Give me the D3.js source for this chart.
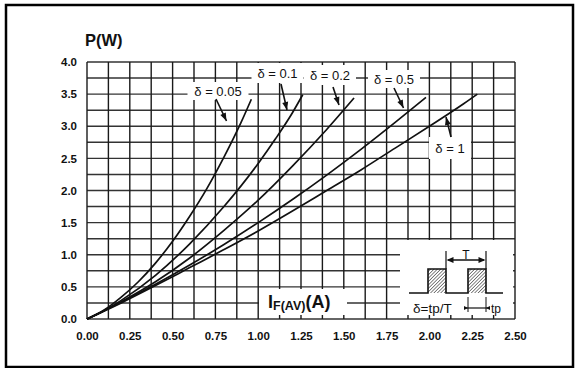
<!DOCTYPE html>
<html>
<head>
<meta charset="utf-8">
<script src="https://cdn.jsdelivr.net/npm/d3@7"></script>
<style>
  body { margin: 0; background: #fff; }
  svg { display: block; font-family: "Liberation Sans", Arial, sans-serif; }
</style>
</head>
<body>
<svg id="graph"></svg>
<script>
var width = 578, height = 368;

// tick labels
var xTickValues = [0, 0.25, 0.5, 0.75, 1.0, 1.25, 1.5, 1.75, 2.0, 2.25, 2.5];
var xTickLabels = ["0.00", "0.25", "0.50", "0.75", "1.00", "1.25", "1.50", "1.75", "2.00", "2.25", "2.50"];
var yTickValues = [0, 0.5, 1.0, 1.5, 2.0, 2.5, 3.0, 3.5, 4.0];
var yTickLabels = ["0.0", "0.5", "1.0", "1.5", "2.0", "2.5", "3.0", "3.5", "4.0"];

// curves: IF(AV) in A, P in W
var duty = ["0.05", "0.1", "0.2", "0.5", "1"];
var ifav005 = [0, 0.1, 0.2, 0.3, 0.4, 0.5, 0.6, 0.7, 0.8, 0.9, 0.96];
var pw005   = [0, 0.14, 0.34, 0.58, 0.87, 1.21, 1.60, 2.03, 2.52, 3.06, 3.42];
var ifav01  = [0, 0.1, 0.2, 0.4, 0.6, 0.8, 1.0, 1.1, 1.2, 1.26];
var pw01    = [0, 0.13, 0.29, 0.68, 1.17, 1.75, 2.42, 2.80, 3.21, 3.49];
var ifav02  = [0, 0.2, 0.4, 0.6, 0.8, 1.0, 1.2, 1.4, 1.56];
var pw02    = [0, 0.27, 0.58, 0.95, 1.38, 1.85, 2.38, 2.95, 3.44];
var ifav05  = [0, 0.2, 0.4, 0.6, 0.8, 1.0, 1.2, 1.4, 1.6, 1.8, 1.98];
var pw05    = [0, 0.26, 0.54, 0.84, 1.16, 1.50, 1.86, 2.24, 2.64, 3.06, 3.45];
var ifav1   = [0, 0.2, 0.4, 0.6, 0.8, 1.0, 1.2, 1.4, 1.6, 1.8, 2.0, 2.2, 2.28];
var pw1     = [0, 0.25, 0.52, 0.80, 1.08, 1.37, 1.68, 2.00, 2.32, 2.66, 3.00, 3.35, 3.50];

var curves = [[ifav005, pw005], [ifav01, pw01], [ifav02, pw02], [ifav05, pw05], [ifav1, pw1]];

var svg = d3.select("#graph")
    .attr("width", width)
    .attr("height", height);

var x = d3.scaleLinear().domain([0, 2.5]).range([87, 515]);
var y = d3.scaleLinear().domain([0, 4]).range([319, 62]);

// outer frame
svg.append("rect")
    .attr("x", 6).attr("y", 5)
    .attr("width", 567).attr("height", 362)
    .attr("fill", "none")
    .attr("stroke", "#000")
    .attr("stroke-width", 2.5);

// grid
var grid = svg.append("g");
grid.selectAll(".hg")
    .data(d3.range(0, 4.001, 0.25))
    .enter().append("line")
    .attr("x1", x(0)).attr("x2", x(2.5))
    .attr("y1", d => y(d)).attr("y2", d => y(d))
    .attr("stroke", "#333")
    .attr("stroke-width", 1.4);
grid.selectAll(".vg")
    .data(d3.range(0, 2.5001, 0.125))
    .enter().append("line")
    .attr("y1", y(0)).attr("y2", y(4))
    .attr("x1", d => x(d)).attr("x2", d => x(d))
    .attr("stroke", "#1a1a1a")
    .attr("stroke-width", 1.4);

// axes (labels only)
var xAxis = svg.append("g")
    .attr("transform", "translate(0," + y(0) + ")")
    .call(d3.axisBottom(x).tickValues(xTickValues)
        .tickFormat((d, i) => xTickLabels[i]).tickSize(0).tickPadding(13));
var yAxis = svg.append("g")
    .attr("transform", "translate(" + x(0) + ",0)")
    .call(d3.axisLeft(y).tickValues(yTickValues)
        .tickFormat((d, i) => yTickLabels[i]).tickSize(0).tickPadding(10));
svg.selectAll(".domain").remove();
svg.selectAll(".tick text")
    .attr("font-family", "Liberation Sans, Arial, sans-serif")
    .attr("font-size", "11.5px")
    .attr("font-weight", "bold")
    .attr("fill", "#111");

svg.append("text")
    .attr("x", 85).attr("y", 46)
    .attr("font-size", "16.5px")
    .attr("font-weight", "bold")
    .attr("fill", "#111")
    .text("P(W)");

// white boxes over the grid
var labels = [
    {t: "\u03b4 = 0.05", cx: 218, cy: 91, w: 61, h: 18, a: [[216, 99], [226.5, 121]]},
    {t: "\u03b4 = 0.1", cx: 277.5, cy: 73, w: 52, h: 20, a: [[281, 84], [287, 110]]},
    {t: "\u03b4 = 0.2", cx: 330, cy: 75, w: 52, h: 20, a: [[333, 87], [339, 105]]},
    {t: "\u03b4 = 0.5", cx: 394, cy: 79, w: 52, h: 18, a: [[394, 88], [403.5, 108]]},
    {t: "\u03b4 = 1", cx: 450, cy: 148, w: 42, h: 22, a: [[451, 137], [446, 117]]}
];

svg.append("rect").attr("x", 259).attr("y", 289).attr("width", 88).attr("height", 26).attr("fill", "#fff");
svg.append("rect").attr("x", 400).attr("y", 240).attr("width", 113).attr("height", 75).attr("fill", "#fff");

svg.selectAll(".lbox")
    .data(labels)
    .enter().append("rect")
    .attr("x", d => d.cx - d.w / 2)
    .attr("y", d => d.cy - d.h / 2)
    .attr("width", d => d.w)
    .attr("height", d => d.h)
    .attr("fill", "#fff");

// curves
var line = d3.line()
    .x(d => x(d[0]))
    .y(d => y(d[1]))
    .curve(d3.curveMonotoneX);

svg.selectAll(".curve")
    .data(curves)
    .enter().append("path")
    .attr("d", c => line(c[0].map((v, i) => [v, c[1][i]])))
    .attr("fill", "none")
    .attr("stroke", "#111")
    .attr("stroke-width", 1.7);

// labels and arrows
svg.selectAll(".ltext")
    .data(labels)
    .enter().append("text")
    .attr("x", d => d.cx)
    .attr("y", d => d.cy + 4.5)
    .attr("text-anchor", "middle")
    .attr("font-size", "13px")
    .attr("fill", "#111")
    .text(d => d.t);

function arrowHead(p0, p1, len, wid) {
    var dx = p1[0] - p0[0], dy = p1[1] - p0[1];
    var L = Math.sqrt(dx * dx + dy * dy);
    var ux = dx / L, uy = dy / L;
    var bx = p1[0] - ux * len, by = p1[1] - uy * len;
    return "M" + p1[0] + "," + p1[1] +
        "L" + (bx - uy * wid / 2) + "," + (by + ux * wid / 2) +
        "L" + (bx + uy * wid / 2) + "," + (by - ux * wid / 2) + "Z";
}

labels.forEach(function (d) {
    svg.append("line")
        .attr("x1", d.a[0][0]).attr("y1", d.a[0][1])
        .attr("x2", d.a[1][0]).attr("y2", d.a[1][1])
        .attr("stroke", "#111")
        .attr("stroke-width", 1.6);
    svg.append("path")
        .attr("d", arrowHead(d.a[0], d.a[1], 8, 6))
        .attr("fill", "#111");
});

// x axis title
var xt = svg.append("text")
    .attr("x", 268).attr("y", 308)
    .attr("font-weight", "bold")
    .attr("fill", "#111");
xt.append("tspan").attr("font-size", "18px").text("I");
xt.append("tspan").attr("font-size", "12.5px").attr("dy", 2).text("F(AV)");
xt.append("tspan").attr("font-size", "18px").attr("dy", -2).text("(A)");

// inset: pulse train
var defs = svg.append("defs");
var pat = defs.append("pattern")
    .attr("id", "hatch")
    .attr("patternUnits", "userSpaceOnUse")
    .attr("width", 2.4).attr("height", 2.4)
    .attr("patternTransform", "rotate(45)");
pat.append("line")
    .attr("x1", 0).attr("y1", 0).attr("x2", 0).attr("y2", 2.4)
    .attr("stroke", "#222").attr("stroke-width", 1.1);

svg.append("rect").attr("x", 428).attr("y", 269).attr("width", 18).attr("height", 24).attr("fill", "url(#hatch)");
svg.append("rect").attr("x", 468).attr("y", 269).attr("width", 18).attr("height", 24).attr("fill", "url(#hatch)");
svg.append("path")
    .attr("d", "M409,293H428V269H446V293H468V269H486V293H503")
    .attr("fill", "none")
    .attr("stroke", "#111")
    .attr("stroke-width", 1.6);

// T
svg.append("line").attr("x1", 446).attr("y1", 251).attr("x2", 446).attr("y2", 269).attr("stroke", "#111").attr("stroke-width", 1.2);
svg.append("line").attr("x1", 486).attr("y1", 251).attr("x2", 486).attr("y2", 269).attr("stroke", "#111").attr("stroke-width", 1.2);
svg.append("line").attr("x1", 448).attr("y1", 260).attr("x2", 484).attr("y2", 260).attr("stroke", "#111").attr("stroke-width", 1.4);
svg.append("path").attr("d", arrowHead([460, 260], [446.5, 260], 7, 6)).attr("fill", "#111");
svg.append("path").attr("d", arrowHead([470, 260], [485.5, 260], 7, 6)).attr("fill", "#111");
svg.append("text").attr("x", 466).attr("y", 259).attr("text-anchor", "middle")
    .attr("font-size", "12px").attr("fill", "#111").text("T");

// tp
svg.append("line").attr("x1", 468).attr("y1", 297).attr("x2", 468).attr("y2", 312).attr("stroke", "#111").attr("stroke-width", 1);
svg.append("line").attr("x1", 486).attr("y1", 297).attr("x2", 486).attr("y2", 312).attr("stroke", "#111").attr("stroke-width", 1);
svg.append("line").attr("x1", 464).attr("y1", 308).attr("x2", 490).attr("y2", 308).attr("stroke", "#111").attr("stroke-width", 1.2);
svg.append("path").attr("d", arrowHead([462, 308], [468, 308], 4, 4)).attr("fill", "#111");
svg.append("path").attr("d", arrowHead([492, 308], [486, 308], 4, 4)).attr("fill", "#111");
svg.append("text").attr("x", 491).attr("y", 313)
    .attr("font-size", "12px").attr("fill", "#111").text("tp");
svg.append("text").attr("x", 413).attr("y", 313)
    .attr("font-size", "13.5px").attr("fill", "#111").text("\u03b4=tp/T");
</script>
</body>
</html>
